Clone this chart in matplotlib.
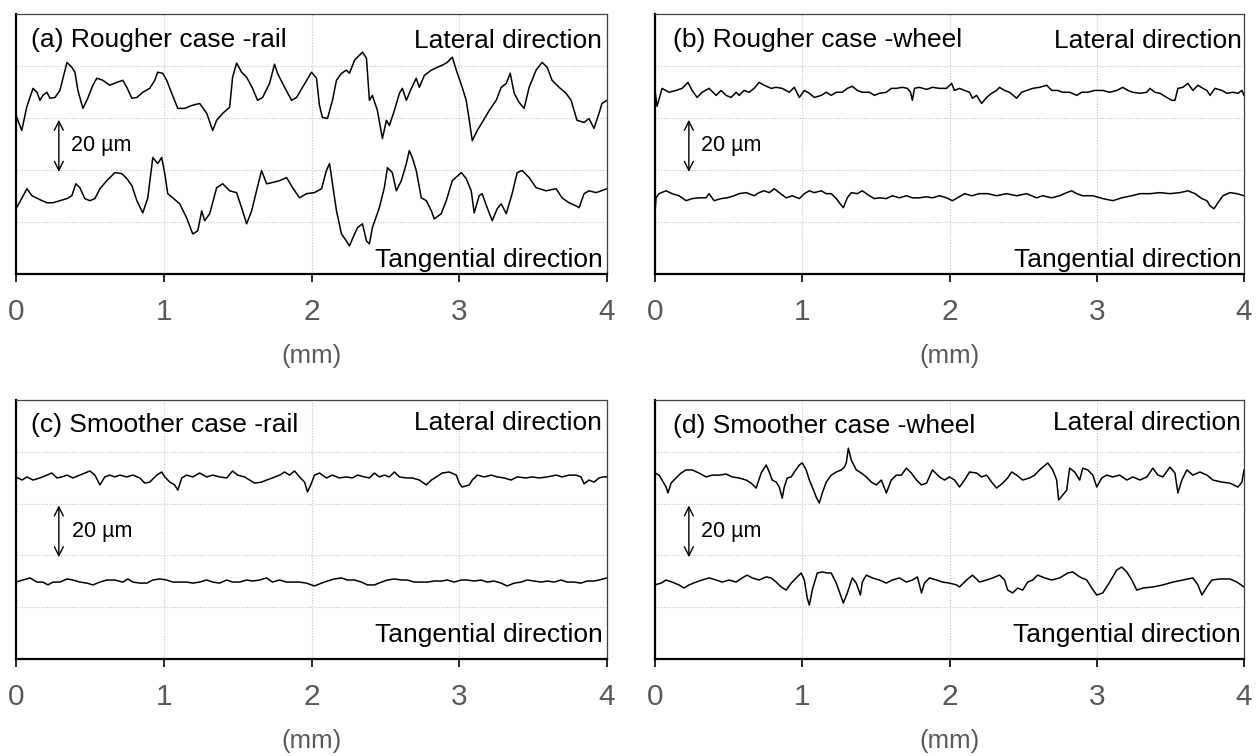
import numpy as np
import matplotlib
matplotlib.use("Agg")
import matplotlib.pyplot as plt

plt.rcParams['font.family'] = ['Liberation Sans', 'DejaVu Sans']

# ---- surface profiles: (position along surface in mm, height in µm) ----
a_lateral = [(0.000,61.0),(0.039,55.2),(0.072,64.1),(0.115,71.4),(0.142,69.9),(0.162,66.8),(0.182,68.7),(0.209,69.9),(0.230,67.6),(0.264,67.9),(0.297,70.6),(0.318,75.3),(0.345,81.4),(0.378,79.5),(0.399,77.6),(0.419,70.6),(0.453,63.7),(0.486,67.6),(0.520,72.6),(0.547,75.3),(0.588,74.5),(0.635,72.6),(0.682,73.7),(0.723,74.5),(0.750,71.8),(0.784,67.6),(0.818,67.9),(0.858,69.9),(0.905,71.4),(0.939,74.5),(0.959,77.6),(0.993,77.2),(1.020,74.5),(1.054,69.5),(1.095,63.7),(1.142,63.7),(1.189,64.8),(1.243,65.6),(1.291,61.8),(1.331,55.2),(1.358,59.1),(1.399,61.8),(1.446,64.1),(1.466,75.7),(1.493,81.1),(1.527,77.6),(1.561,75.7),(1.601,71.4),(1.635,66.8),(1.669,67.9),(1.716,73.3),(1.750,80.7),(1.770,77.2),(1.818,71.8),(1.865,66.8),(1.899,67.9),(1.939,71.8),(2.000,77.6),(2.034,75.3),(2.054,64.8),(2.074,60.2),(2.108,59.8),(2.142,66.8),(2.169,74.5),(2.203,77.2),(2.236,78.4),(2.257,77.2),(2.291,82.2),(2.311,83.4),(2.345,85.3),(2.372,83.0),(2.392,66.8),(2.412,68.7),(2.446,62.9),(2.480,52.1),(2.507,59.1),(2.527,57.1),(2.561,62.9),(2.595,69.5),(2.615,71.4),(2.642,66.8),(2.676,71.4),(2.709,75.3),(2.730,71.8),(2.764,76.4),(2.811,78.4),(2.851,79.5),(2.885,80.3),(2.919,81.4),(2.953,83.4),(2.980,78.4),(3.020,71.8),(3.047,66.8),(3.068,59.1),(3.088,51.3),(3.122,55.2),(3.155,58.3),(3.203,62.9),(3.250,66.8),(3.284,71.8),(3.318,73.3),(3.345,77.2),(3.372,69.5),(3.405,66.0),(3.439,63.7),(3.473,71.8),(3.520,78.4),(3.561,81.4),(3.595,79.5),(3.628,74.5),(3.676,71.8),(3.723,69.5),(3.757,66.8),(3.797,59.1),(3.845,58.3),(3.878,59.8),(3.912,56.0),(3.946,61.8),(3.966,65.6),(4.000,66.8)]

a_tangential = [(0.000,25.1),(0.041,29.3),(0.074,32.8),(0.108,30.1),(0.162,28.6),(0.209,27.4),(0.250,27.4),(0.297,28.2),(0.345,29.0),(0.378,30.1),(0.405,34.7),(0.432,33.2),(0.466,29.0),(0.500,28.2),(0.534,29.0),(0.568,32.8),(0.615,35.9),(0.669,39.0),(0.716,38.6),(0.750,36.7),(0.784,34.0),(0.818,28.2),(0.858,23.5),(0.892,29.3),(0.926,44.8),(0.959,42.5),(0.986,44.8),(1.007,38.6),(1.027,30.9),(1.061,29.3),(1.108,27.0),(1.155,21.6),(1.196,15.4),(1.230,16.6),(1.257,24.3),(1.277,20.5),(1.311,23.2),(1.358,33.2),(1.399,34.7),(1.446,32.0),(1.493,31.3),(1.527,25.5),(1.561,19.3),(1.595,24.3),(1.628,32.0),(1.662,39.8),(1.696,34.7),(1.730,35.1),(1.784,35.9),(1.831,37.1),(1.872,33.2),(1.919,29.3),(1.966,30.9),(2.020,31.3),(2.068,32.8),(2.101,39.8),(2.122,42.5),(2.142,34.7),(2.169,24.3),(2.203,15.4),(2.236,12.7),(2.257,10.8),(2.277,13.5),(2.311,17.8),(2.345,19.3),(2.372,12.7),(2.392,11.6),(2.412,17.8),(2.459,25.5),(2.493,33.2),(2.514,40.9),(2.547,39.0),(2.574,32.0),(2.608,35.9),(2.642,42.5),(2.662,47.5),(2.682,44.8),(2.709,39.8),(2.743,29.3),(2.777,28.2),(2.811,24.3),(2.831,21.2),(2.878,23.2),(2.912,28.2),(2.953,35.9),(3.014,39.0),(3.047,36.7),(3.081,32.0),(3.101,23.5),(3.135,30.1),(3.155,30.9),(3.189,25.5),(3.223,20.5),(3.257,25.1),(3.284,27.0),(3.318,23.2),(3.358,30.9),(3.392,39.0),(3.426,39.8),(3.473,37.1),(3.520,33.2),(3.588,32.0),(3.655,32.8),(3.696,29.3),(3.743,27.4),(3.791,26.2),(3.811,25.5),(3.845,30.9),(3.878,32.0),(3.926,31.3),(4.000,32.8)]

b_lateral = [(0.000,70.6),(0.014,64.5),(0.048,71.4),(0.095,69.9),(0.143,70.6),(0.184,71.4),(0.224,73.7),(0.252,70.6),(0.286,67.9),(0.320,69.9),(0.367,71.4),(0.415,68.7),(0.449,70.6),(0.483,68.7),(0.517,67.9),(0.551,69.9),(0.571,68.7),(0.605,70.6),(0.639,69.9),(0.673,71.4),(0.707,73.7),(0.741,72.6),(0.789,71.4),(0.823,71.8),(0.864,71.4),(0.912,69.9),(0.946,71.8),(0.980,67.9),(1.014,70.6),(1.048,69.5),(1.082,67.9),(1.129,68.7),(1.163,69.9),(1.197,68.7),(1.231,69.9),(1.272,69.9),(1.306,71.4),(1.340,72.2),(1.374,70.6),(1.408,69.9),(1.456,69.9),(1.490,68.7),(1.524,69.5),(1.571,69.9),(1.605,71.4),(1.639,71.4),(1.680,71.8),(1.714,71.4),(1.735,69.9),(1.748,66.8),(1.762,71.4),(1.796,71.8),(1.844,71.0),(1.884,71.8),(1.932,71.4),(1.980,71.4),(2.014,73.3),(2.034,70.6),(2.068,71.4),(2.102,70.6),(2.136,69.9),(2.156,67.6),(2.184,68.7),(2.218,65.6),(2.252,67.9),(2.286,69.5),(2.320,70.6),(2.340,71.8),(2.374,70.6),(2.408,69.9),(2.456,67.6),(2.490,69.9),(2.524,70.6),(2.565,71.4),(2.612,71.8),(2.660,72.6),(2.694,70.6),(2.735,70.6),(2.769,69.9),(2.816,69.9),(2.864,68.7),(2.898,69.9),(2.939,69.9),(2.986,70.6),(3.041,70.6),(3.088,69.9),(3.136,70.6),(3.177,71.8),(3.211,70.6),(3.245,69.9),(3.293,69.5),(3.340,69.9),(3.361,71.4),(3.395,69.9),(3.429,69.5),(3.476,67.9),(3.510,66.8),(3.531,66.8),(3.551,71.4),(3.585,71.8),(3.619,73.3),(3.653,70.6),(3.687,72.6),(3.721,71.4),(3.748,70.6),(3.769,68.7),(3.803,71.4),(3.850,70.6),(3.884,69.5),(3.925,69.9),(3.959,69.5),(3.986,70.6),(4.000,68.7)]

b_tangential = [(0.000,23.5),(0.007,29.3),(0.027,30.9),(0.075,32.0),(0.116,30.9),(0.163,30.1),(0.211,28.2),(0.252,29.0),(0.299,29.3),(0.347,29.3),(0.367,30.9),(0.401,28.2),(0.449,29.0),(0.490,29.3),(0.537,30.1),(0.571,30.9),(0.619,31.3),(0.673,30.1),(0.707,31.3),(0.741,32.0),(0.776,31.3),(0.810,32.8),(0.844,31.3),(0.891,29.3),(0.932,30.1),(0.980,29.0),(1.014,30.9),(1.048,32.0),(1.082,31.3),(1.129,32.0),(1.163,30.9),(1.197,30.9),(1.231,29.0),(1.252,27.4),(1.279,25.5),(1.306,29.3),(1.333,31.3),(1.374,30.9),(1.408,32.0),(1.456,30.1),(1.490,29.0),(1.524,29.3),(1.571,29.0),(1.612,30.1),(1.660,29.3),(1.707,30.1),(1.748,29.3),(1.796,29.3),(1.844,29.7),(1.884,29.3),(1.932,30.1),(1.980,29.3),(2.020,28.2),(2.054,29.3),(2.102,30.9),(2.150,30.1),(2.204,30.9),(2.259,30.9),(2.320,30.1),(2.388,30.9),(2.456,30.1),(2.524,30.9),(2.592,29.3),(2.633,30.1),(2.694,29.3),(2.748,30.1),(2.796,31.3),(2.830,32.0),(2.864,30.9),(2.905,30.1),(2.973,30.1),(3.041,29.0),(3.109,28.2),(3.170,29.3),(3.238,30.1),(3.293,30.9),(3.361,30.9),(3.429,31.3),(3.497,30.9),(3.565,31.3),(3.619,32.0),(3.667,30.9),(3.714,29.0),(3.748,28.2),(3.769,26.2),(3.796,25.1),(3.823,27.4),(3.857,30.1),(3.905,31.3),(3.952,30.9),(4.000,30.1)]

c_lateral = [(0.000,70.3),(0.041,69.1),(0.074,70.3),(0.115,69.1),(0.162,69.9),(0.209,71.0),(0.243,71.8),(0.277,69.9),(0.311,70.3),(0.345,71.0),(0.385,69.9),(0.432,71.0),(0.466,71.8),(0.500,72.6),(0.534,71.0),(0.568,67.2),(0.601,70.3),(0.635,71.0),(0.669,70.3),(0.703,71.0),(0.750,70.3),(0.791,71.0),(0.838,69.9),(0.872,67.9),(0.905,68.3),(0.953,71.0),(0.986,72.2),(1.007,70.3),(1.041,68.3),(1.074,67.2),(1.095,65.2),(1.122,69.9),(1.155,71.0),(1.196,70.3),(1.243,71.8),(1.291,70.3),(1.331,71.0),(1.378,70.3),(1.426,69.9),(1.466,72.6),(1.500,71.0),(1.547,70.3),(1.581,69.1),(1.615,67.9),(1.662,68.3),(1.696,69.1),(1.736,69.9),(1.784,71.0),(1.818,72.2),(1.851,71.0),(1.885,72.6),(1.919,70.3),(1.953,68.3),(1.973,64.5),(2.000,67.9),(2.020,71.0),(2.054,71.8),(2.101,69.9),(2.142,71.0),(2.189,69.9),(2.236,70.3),(2.277,69.9),(2.311,71.0),(2.358,70.3),(2.392,69.9),(2.426,71.8),(2.459,70.3),(2.493,71.0),(2.527,70.3),(2.561,72.2),(2.595,70.3),(2.642,69.9),(2.682,69.9),(2.730,69.1),(2.777,67.2),(2.811,69.1),(2.845,70.3),(2.885,71.8),(2.932,72.2),(2.980,71.0),(3.000,67.9),(3.020,66.4),(3.068,67.2),(3.088,69.1),(3.122,71.0),(3.169,70.3),(3.216,71.0),(3.257,70.3),(3.304,69.9),(3.351,69.1),(3.392,70.3),(3.453,69.9),(3.493,70.3),(3.541,69.9),(3.595,70.3),(3.655,71.0),(3.696,70.3),(3.743,71.0),(3.791,71.0),(3.824,70.3),(3.845,67.6),(3.878,69.1),(3.912,68.3),(3.946,69.9),(3.973,70.3),(4.000,70.3)]

c_tangential = [(0.000,29.7),(0.047,30.5),(0.095,31.3),(0.142,29.7),(0.182,29.7),(0.216,28.6),(0.250,29.7),(0.297,29.7),(0.345,30.9),(0.385,30.5),(0.432,29.7),(0.480,29.3),(0.520,28.6),(0.568,29.7),(0.615,30.5),(0.669,30.5),(0.723,29.7),(0.757,30.9),(0.791,29.7),(0.838,29.3),(0.885,29.3),(0.926,30.5),(0.973,30.9),(1.020,30.5),(1.061,29.7),(1.108,29.7),(1.155,29.7),(1.196,29.3),(1.243,29.7),(1.291,30.5),(1.331,29.7),(1.378,29.3),(1.426,30.5),(1.466,29.7),(1.514,29.7),(1.561,30.5),(1.601,30.1),(1.649,30.5),(1.696,31.3),(1.736,29.7),(1.784,30.5),(1.831,29.7),(1.872,29.7),(1.919,29.7),(1.966,29.3),(2.000,28.6),(2.020,28.2),(2.068,29.3),(2.108,30.1),(2.155,30.9),(2.203,31.3),(2.243,30.5),(2.291,30.5),(2.338,29.7),(2.378,28.6),(2.426,28.6),(2.473,29.7),(2.514,30.5),(2.561,30.9),(2.608,30.5),(2.649,30.5),(2.696,29.7),(2.743,29.7),(2.784,29.7),(2.831,30.1),(2.878,30.1),(2.919,30.5),(2.966,29.7),(3.014,30.5),(3.054,30.5),(3.101,30.1),(3.149,30.5),(3.189,29.7),(3.236,30.1),(3.284,29.3),(3.324,28.2),(3.372,29.3),(3.419,29.7),(3.459,30.5),(3.507,30.1),(3.554,29.7),(3.595,30.1),(3.642,29.7),(3.689,30.5),(3.730,29.7),(3.777,29.7),(3.824,29.3),(3.865,30.1),(3.912,30.1),(3.946,30.5),(4.000,31.3)]

d_lateral = [(0.000,71.8),(0.027,71.0),(0.048,69.1),(0.075,66.4),(0.088,64.1),(0.109,67.9),(0.129,69.1),(0.150,70.3),(0.177,71.8),(0.211,73.0),(0.252,73.0),(0.299,71.8),(0.347,70.3),(0.388,71.0),(0.435,71.0),(0.483,71.4),(0.524,70.3),(0.571,69.9),(0.619,69.1),(0.653,67.9),(0.687,66.0),(0.721,71.8),(0.755,74.9),(0.776,72.2),(0.796,69.1),(0.823,68.3),(0.844,66.4),(0.864,62.1),(0.878,66.4),(0.898,69.9),(0.925,70.3),(0.946,72.2),(0.980,74.9),(1.000,75.7),(1.027,73.0),(1.048,69.1),(1.068,66.4),(1.095,62.5),(1.116,60.2),(1.136,64.1),(1.163,68.3),(1.197,71.0),(1.231,72.2),(1.265,73.0),(1.286,74.1),(1.299,75.7),(1.313,81.4),(1.333,76.8),(1.367,73.0),(1.401,71.8),(1.435,70.3),(1.469,68.3),(1.503,67.2),(1.537,69.1),(1.571,64.1),(1.605,69.1),(1.639,71.0),(1.673,71.0),(1.707,73.7),(1.741,71.8),(1.776,69.1),(1.810,67.2),(1.844,67.9),(1.884,73.0),(1.932,70.3),(1.966,69.1),(2.000,70.3),(2.034,69.1),(2.068,66.4),(2.102,69.1),(2.136,72.2),(2.184,71.8),(2.218,70.3),(2.252,71.0),(2.286,68.3),(2.320,66.0),(2.361,67.9),(2.395,69.9),(2.422,72.2),(2.456,71.0),(2.497,69.1),(2.544,69.9),(2.578,71.0),(2.612,73.0),(2.667,75.7),(2.701,73.0),(2.728,69.1),(2.741,61.4),(2.769,63.3),(2.796,65.2),(2.816,73.7),(2.850,72.2),(2.884,69.1),(2.905,73.7),(2.939,73.0),(2.973,71.0),(3.000,66.4),(3.034,69.9),(3.068,71.0),(3.109,70.3),(3.156,71.0),(3.204,69.1),(3.245,70.3),(3.293,69.1),(3.340,70.3),(3.381,73.7),(3.415,71.0),(3.449,70.3),(3.497,74.1),(3.531,71.8),(3.551,64.1),(3.578,69.1),(3.612,73.0),(3.653,71.0),(3.701,72.2),(3.748,71.0),(3.789,69.1),(3.850,68.3),(3.905,67.9),(3.959,66.4),(3.986,68.3),(4.000,73.0)]

d_tangential = [(0.000,28.6),(0.041,29.3),(0.075,30.5),(0.116,29.7),(0.163,28.6),(0.197,27.4),(0.231,28.6),(0.279,29.7),(0.320,30.5),(0.367,31.3),(0.415,30.5),(0.456,29.7),(0.503,30.5),(0.551,29.7),(0.592,31.3),(0.626,32.4),(0.660,31.3),(0.707,30.5),(0.755,31.7),(0.789,31.3),(0.823,29.7),(0.857,27.8),(0.891,26.6),(0.925,29.3),(0.959,31.3),(0.993,33.2),(1.014,30.5),(1.034,23.5),(1.048,20.8),(1.068,26.6),(1.102,33.2),(1.136,33.6),(1.170,33.2),(1.197,33.2),(1.231,29.3),(1.265,23.9),(1.279,21.6),(1.306,25.5),(1.340,31.3),(1.367,29.3),(1.395,24.7),(1.408,29.7),(1.435,32.4),(1.476,31.3),(1.524,30.5),(1.571,29.3),(1.612,30.5),(1.660,31.3),(1.707,29.7),(1.748,30.5),(1.782,31.7),(1.810,25.5),(1.830,29.3),(1.864,31.3),(1.912,30.5),(1.952,29.7),(2.000,29.3),(2.048,28.6),(2.068,27.8),(2.116,30.5),(2.156,32.4),(2.204,29.7),(2.252,30.5),(2.293,31.3),(2.340,32.4),(2.374,30.5),(2.395,26.6),(2.429,25.5),(2.463,27.4),(2.497,26.6),(2.531,29.7),(2.565,30.5),(2.599,32.4),(2.646,31.3),(2.694,30.5),(2.748,31.3),(2.803,33.2),(2.837,33.6),(2.884,31.7),(2.932,30.5),(2.966,27.4),(3.000,24.7),(3.041,25.5),(3.088,29.7),(3.136,34.4),(3.170,35.5),(3.204,33.6),(3.238,30.5),(3.272,26.6),(3.313,27.4),(3.381,27.8),(3.449,28.6),(3.517,29.7),(3.585,30.5),(3.653,31.3),(3.687,28.6),(3.714,24.7),(3.748,27.8),(3.782,30.5),(3.837,30.9),(3.905,30.9),(3.952,29.7),(4.000,27.8)]

panel_titles = ["(a) Rougher case -rail", "(b) Rougher case -wheel",
                "(c) Smoother case -rail", "(d) Smoother case -wheel"]
lateral_label = "Lateral direction"
tangential_label = "Tangential direction"
x_ticks = [0, 1, 2, 3, 4]
x_label = "(mm)"
scale_bar_um = 20.0
scale_bar_bottom = 39.3

W, H = 1257, 756
fig = plt.figure(figsize=(W / 100, H / 100), dpi=100)

# axes boxes in pixels: left, top, right, bottom
boxes = [(16, 14, 607, 274), (655, 14, 1244, 274),
         (16, 400, 607, 659), (655, 400, 1244, 659)]

# text placement per panel (axes fractions / data x)
title_pos = [(0.026, 0.873), (0.030, 0.873), (0.026, 0.876), (0.030, 0.873)]
lat_pos = [(0.992, 0.869), (0.997, 0.869), (0.992, 0.884), (0.994, 0.884)]
tan_pos = [(0.992, 0.027), (0.997, 0.027), (0.992, 0.066), (0.994, 0.066)]
arrow_x = [0.29, 0.23, 0.29, 0.23]
bar_text_x = [0.37, 0.31, 0.38, 0.31]

profiles = [(a_lateral, a_tangential), (b_lateral, b_tangential),
            (c_lateral, c_tangential), (d_lateral, d_tangential)]

for i, (l, t, r, b) in enumerate(boxes):
    ax = fig.add_axes([l / W, 1 - b / H, (r - l) / W, (b - t) / H])
    ax.set_xlim(0, 4)
    ax.set_ylim(0, 100)
    ax.set_xticks(x_ticks)
    ax.set_xticklabels([str(v) for v in x_ticks])
    ax.set_yticks([20, 40, 60, 80])
    ax.grid(True, linestyle=(0, (1, 1.5)), color='#c4c4c4', linewidth=0.8)
    ax.set_axisbelow(True)
    ax.tick_params(axis='y', left=False, labelleft=False)
    ax.tick_params(axis='x', direction='out', length=6, width=1.2,
                   color='black', labelsize=21.5, labelcolor='#595959', pad=11)
    for s in ('left', 'bottom'):
        ax.spines[s].set_linewidth(1.6)
        ax.spines[s].set_color('black')
    for s in ('top', 'right'):
        ax.spines[s].set_linewidth(0.9)
        ax.spines[s].set_color('#404040')
    ax.set_xlabel(x_label, fontsize=18.5, color='#595959', labelpad=13)

    for prof in profiles[i]:
        arr = np.array(prof)
        ax.plot(arr[:, 0], arr[:, 1], color='black', linewidth=1.1)

    ax.text(*title_pos[i], panel_titles[i], transform=ax.transAxes,
            fontsize=19, ha='left', va='baseline')
    ax.text(*lat_pos[i], lateral_label, transform=ax.transAxes,
            fontsize=19, ha='right', va='baseline')
    ax.text(*tan_pos[i], tangential_label, transform=ax.transAxes,
            fontsize=19, ha='right', va='baseline')

    # 20 µm scale bar
    ax.annotate('', xy=(arrow_x[i], scale_bar_bottom + scale_bar_um),
                xytext=(arrow_x[i], scale_bar_bottom),
                arrowprops=dict(arrowstyle='<->', lw=1.0, color='black',
                                shrinkA=0, shrinkB=0, mutation_scale=16))
    ax.text(bar_text_x[i], scale_bar_bottom + scale_bar_um / 2,
            f"{scale_bar_um:.0f} µm", fontsize=15.5, ha='left', va='center')

fig.savefig("out.png", dpi=100)
